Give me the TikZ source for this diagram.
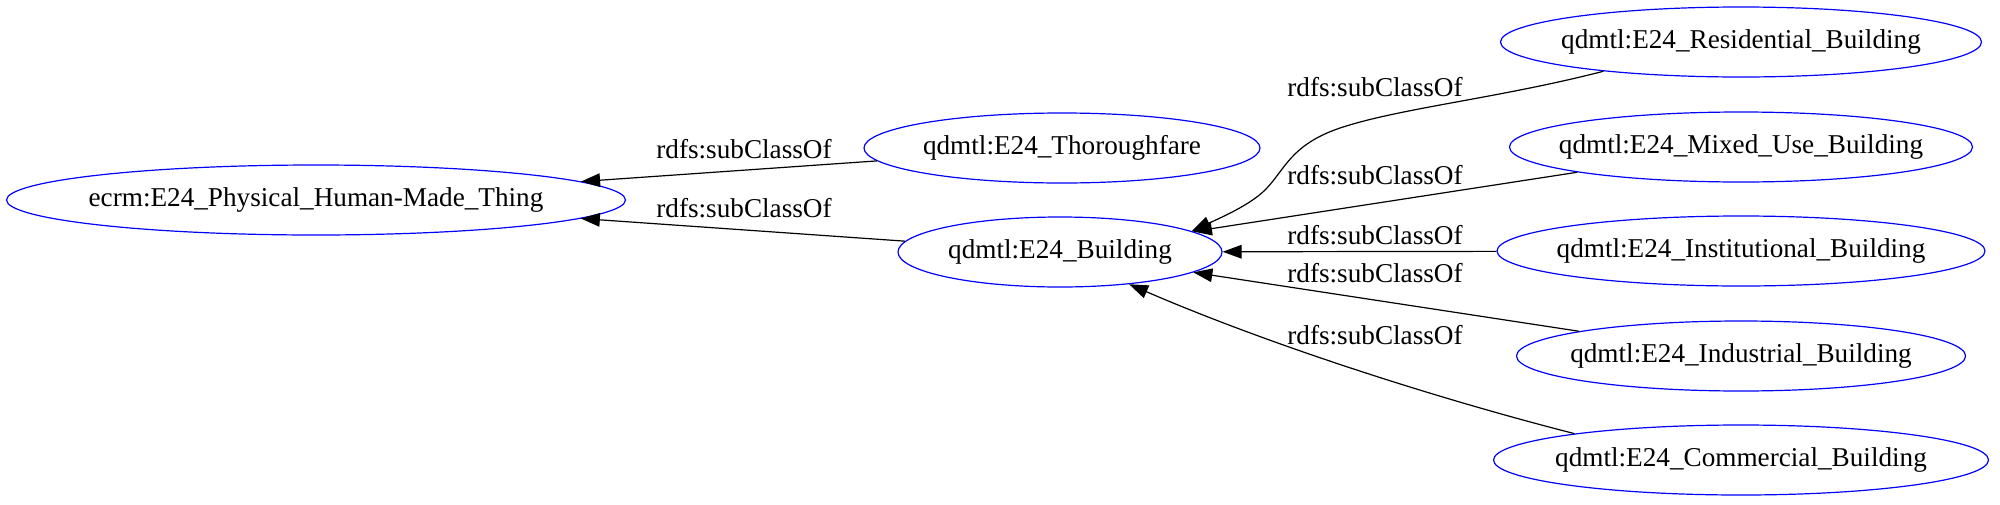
\documentclass[tikz,border=0pt]{standalone}
\usepackage{fontspec}
\setmainfont{Liberation Serif}
\usepackage{tikz}
\usetikzlibrary{
  arrows.meta,
  shapes.geometric
}
\definecolor{classline}{RGB}{0,0,255}

\begin{document}
\begin{tikzpicture}[x=0.5pt, y=-0.5pt,
    font=\fontsize{13.6}{16}\selectfont,
    cls/.style={ellipse, draw=classline, line width=0.6pt, inner sep=-12pt,
                minimum width=#1, minimum height=35pt},
    sub/.style={draw=black, line width=0.6pt,
                -{Triangle[length=9.5pt, width=6.8pt]}},
    lbl/.style={inner sep=0pt}]
  \useasboundingbox (0,0) rectangle (2000,504);

  % classes
  \node[cls=309.5pt] (thing) at (316,200) {ecrm:E24\_Physical\_Human-Made\_Thing};
  \node[cls=198pt]   (thor)  at (1062,148) {qdmtl:E24\_Thoroughfare};
  \node[cls=162pt]   (bldg)  at (1060,252) {qdmtl:E24\_Building};
  \node[cls=240.5pt] (resi)  at (1741,42)  {qdmtl:E24\_Residential\_Building};
  \node[cls=231.5pt] (mixed) at (1741,147) {qdmtl:E24\_Mixed\_Use\_Building};
  \node[cls=244pt]   (inst)  at (1741,251) {qdmtl:E24\_Institutional\_Building};
  \node[cls=224.5pt] (indus) at (1741,356) {qdmtl:E24\_Industrial\_Building};
  \node[cls=247.5pt] (comm)  at (1741,460) {qdmtl:E24\_Commercial\_Building};

  % subClassOf edges
  \draw[sub] (thor) -- (thing);
  \draw[sub] (bldg) -- (thing);
  \draw[sub] (resi.192) .. controls (1500,98) and (1400,108) .. (1340,128)
             .. controls (1290,145) and (1285,170) .. (1265,190)
             .. controls (1250,205) and (1220,218) .. (bldg.9);
  \draw[sub] (mixed) -- (bldg);
  \draw[sub] (inst) -- (bldg);
  \draw[sub] (indus) -- (bldg);
  \draw[sub] (comm.171) .. controls (1431,397) and (1265,343) .. (bldg.335);

  % edge labels
  \node[lbl] (lthor)  at (744,149)  {rdfs:subClassOf};
  \node[lbl] (lbldg)  at (744,208)  {rdfs:subClassOf};
  \node[lbl] (lresi)  at (1375,87)  {rdfs:subClassOf};
  \node[lbl] (lmixed) at (1375,175) {rdfs:subClassOf};
  \node[lbl] (linst)  at (1375,235) {rdfs:subClassOf};
  \node[lbl] (lindus) at (1375,273) {rdfs:subClassOf};
  \node[lbl] (lcomm)  at (1375,335) {rdfs:subClassOf};
\end{tikzpicture}
\end{document}
